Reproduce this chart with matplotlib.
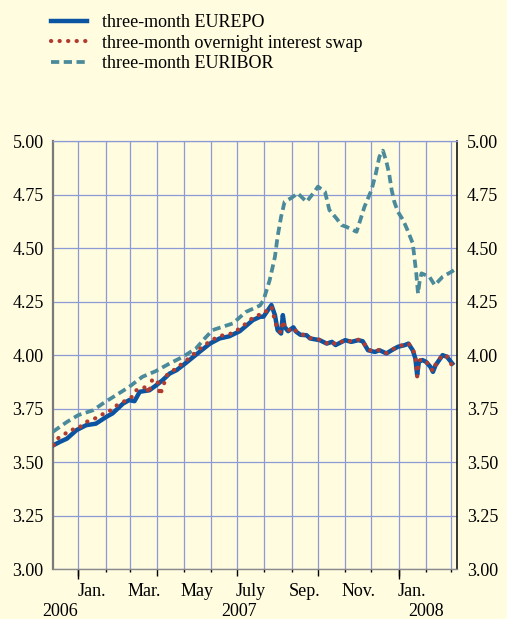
import matplotlib
matplotlib.use("Agg")
import matplotlib.pyplot as plt
import matplotlib.dates as mdates
from matplotlib.transforms import blended_transform_factory
import pandas as pd

# ---------------- data ----------------
repo_dates = ["2006-12-04", "2006-12-11", "2006-12-19", "2006-12-30", "2007-01-10", "2007-01-21",
              "2007-02-02", "2007-02-09", "2007-02-21", "2007-02-28", "2007-03-06", "2007-03-12",
              "2007-03-23", "2007-03-31", "2007-04-07", "2007-04-15", "2007-04-23", "2007-05-04",
              "2007-05-19", "2007-05-31", "2007-06-11", "2007-06-22", "2007-07-04", "2007-07-19",
              "2007-07-27", "2007-07-31", "2007-08-05", "2007-08-09", "2007-08-13", "2007-08-16",
              "2007-08-20", "2007-08-22", "2007-08-24", "2007-08-28", "2007-09-03", "2007-09-06",
              "2007-09-11", "2007-09-18", "2007-09-22", "2007-10-03", "2007-10-11", "2007-10-17",
              "2007-10-21", "2007-11-01", "2007-11-08", "2007-11-16", "2007-11-21", "2007-11-27",
              "2007-12-05", "2007-12-10", "2007-12-18", "2007-12-24", "2007-12-31", "2008-01-08",
              "2008-01-12", "2008-01-17", "2008-01-20", "2008-01-22", "2008-01-24", "2008-01-28",
              "2008-02-01", "2008-02-06", "2008-02-09", "2008-02-12", "2008-02-20", "2008-02-25",
              "2008-03-02"]
eurepo = [3.580, 3.595, 3.610, 3.650, 3.673, 3.680,
          3.712, 3.728, 3.774, 3.790, 3.785, 3.829,
          3.836, 3.860, 3.883, 3.914, 3.930, 3.965,
          4.015, 4.054, 4.078, 4.088, 4.112, 4.164,
          4.179, 4.180, 4.210, 4.234, 4.187, 4.117,
          4.101, 4.187, 4.132, 4.112, 4.130, 4.110,
          4.095, 4.093, 4.078, 4.070, 4.054, 4.062,
          4.047, 4.070, 4.062, 4.070, 4.065, 4.023,
          4.015, 4.023, 4.008, 4.023, 4.039, 4.047,
          4.054, 4.023, 3.984, 3.907, 3.969, 3.977,
          3.969, 3.946, 3.922, 3.953, 4.000, 3.992,
          3.961]

ois_dates = ["2006-12-04", "2006-12-08", "2006-12-15", "2006-12-22", "2007-01-01", "2007-01-07",
             "2007-01-14", "2007-01-25", "2007-02-01", "2007-02-08", "2007-02-14", "2007-02-25",
             "2007-03-03", "2007-03-08", "2007-03-16", "2007-03-20", "2007-03-22", "2007-03-26",
             "2007-04-01", "2007-04-04", "2007-04-06", "2007-04-12", "2007-04-23", "2007-05-04",
             "2007-05-19", "2007-05-31", "2007-06-11", "2007-06-22", "2007-07-04", "2007-07-19",
             "2007-07-27", "2007-07-31", "2007-08-05", "2007-08-09", "2007-08-13", "2007-08-16",
             "2007-08-20", "2007-08-22", "2007-08-24", "2007-08-28", "2007-09-03", "2007-09-06",
             "2007-09-11", "2007-09-18", "2007-09-22", "2007-10-03", "2007-10-11", "2007-10-17",
             "2007-10-21", "2007-11-01", "2007-11-08", "2007-11-16", "2007-11-21", "2007-11-27",
             "2007-12-05", "2007-12-10", "2007-12-18", "2007-12-24", "2007-12-31", "2008-01-08",
             "2008-01-12", "2008-01-17", "2008-01-20", "2008-01-22", "2008-01-24", "2008-01-28",
             "2008-02-01", "2008-02-06", "2008-02-09", "2008-02-12", "2008-02-20", "2008-02-25",
             "2008-03-02"]
ois = [3.580, 3.610, 3.626, 3.650, 3.657, 3.681,
       3.696, 3.712, 3.735, 3.743, 3.766, 3.790,
       3.805, 3.836, 3.844, 3.860, 3.820, 3.883,
       3.885, 3.813, 3.836, 3.907, 3.940, 3.975,
       4.028, 4.065, 4.090, 4.097, 4.124, 4.175,
       4.190, 4.192, 4.215, 4.226, 4.160, 4.120,
       4.105, 4.160, 4.135, 4.115, 4.128, 4.112,
       4.097, 4.093, 4.080, 4.072, 4.056, 4.064,
       4.050, 4.070, 4.064, 4.072, 4.065, 4.025,
       4.018, 4.025, 4.010, 4.025, 4.040, 4.050,
       4.055, 4.030, 3.990, 3.900, 3.975, 3.980,
       3.972, 3.945, 3.925, 3.955, 4.002, 3.994,
       3.950]

euribor_dates = ["2006-12-03", "2006-12-19", "2007-01-01", "2007-01-18", "2007-01-31", "2007-02-13",
                 "2007-02-28", "2007-03-15", "2007-03-30", "2007-04-15", "2007-04-30", "2007-05-15",
                 "2007-05-25", "2007-06-03", "2007-06-14", "2007-06-26", "2007-07-11", "2007-07-27",
                 "2007-07-31", "2007-08-07", "2007-08-13", "2007-08-16", "2007-08-20", "2007-08-24",
                 "2007-09-01", "2007-09-08", "2007-09-18", "2007-09-27", "2007-10-01", "2007-10-09",
                 "2007-10-14", "2007-10-22", "2007-10-28", "2007-11-02", "2007-11-14", "2007-11-17",
                 "2007-11-23", "2007-12-01", "2007-12-06", "2007-12-10", "2007-12-14", "2007-12-18",
                 "2007-12-21", "2007-12-24", "2007-12-27", "2007-12-31", "2008-01-06", "2008-01-11",
                 "2008-01-17", "2008-01-19", "2008-01-21", "2008-01-23", "2008-01-25", "2008-01-27",
                 "2008-02-05", "2008-02-11", "2008-02-20", "2008-03-01", "2008-03-05"]
euribor = [3.642, 3.688, 3.720, 3.743, 3.780, 3.813,
           3.852, 3.899, 3.925, 3.961, 3.992, 4.031,
           4.078, 4.117, 4.132, 4.148, 4.202, 4.232,
           4.257, 4.350, 4.459, 4.553, 4.646, 4.716,
           4.735, 4.756, 4.716, 4.763, 4.787, 4.763,
           4.678, 4.639, 4.607, 4.600, 4.576, 4.615,
           4.693, 4.771, 4.849, 4.927, 4.955, 4.903,
           4.849, 4.771, 4.716, 4.670, 4.631, 4.584,
           4.522, 4.452, 4.382, 4.288, 4.350, 4.382,
           4.366, 4.327, 4.366, 4.389, 4.400]

series_labels = ["three-month EUREPO", "three-month overnight interest swap", "three-month EURIBOR"]
yticks = [3.00, 3.25, 3.50, 3.75, 4.00, 4.25, 4.50, 4.75, 5.00]
month_labels = ["Jan.", "Mar.", "May", "July", "Sep.", "Nov.", "Jan."]
month_label_dates = ["2007-01-16", "2007-03-17", "2007-05-16", "2007-07-16",
                     "2007-09-16", "2007-11-16", "2008-01-16"]
year_labels = ["2006", "2007", "2008"]
year_label_dates = ["2006-12-11", "2007-07-03", "2008-02-01"]

# ---------------- style ----------------
BG = "#fffce0"
GRID = "#8c9bd6"
C_REPO = "#0b54a2"
C_OIS = "#b23b2f"
C_EURIBOR = "#4a8a9b"
FS = 13
plt.rcParams["font.family"] = ["Liberation Serif", "DejaVu Serif"]

fig = plt.figure(figsize=(5.07, 6.19), dpi=100, facecolor=BG)
ax = fig.add_axes([0.1051, 0.0803, 0.7963, 0.6919])
ax.set_facecolor(BG)

l_eur, = ax.plot(pd.to_datetime(euribor_dates), euribor, color=C_EURIBOR, lw=2.7,
                 dashes=(2.2, 1.2), dash_capstyle="butt", zorder=3, label=series_labels[2])
l_repo, = ax.plot(pd.to_datetime(repo_dates), eurepo, color=C_REPO, lw=3.2,
                  solid_joinstyle="round", zorder=4, label=series_labels[0])
l_ois, = ax.plot(pd.to_datetime(ois_dates), ois, color=C_OIS, lw=3.0,
                 dashes=(0.05, 2.0), dash_capstyle="round", zorder=5, label=series_labels[1])

ax.set_xlim(pd.Timestamp("2006-12-03 12:00"), pd.Timestamp("2008-03-07 10:00"))
ax.set_ylim(3.0, 5.0)

# y axis
ax.set_yticks(yticks)
ax.set_yticklabels([f"{v:.2f}" for v in yticks])
ax.tick_params(axis="y", which="both", left=True, right=True, labelleft=True, labelright=True,
               length=0, pad=7, labelsize=FS)

# x axis ticks: minor every month, major every quarter, extra long at January
ax.xaxis.set_major_locator(mdates.MonthLocator(bymonth=[1, 4, 7, 10]))
ax.xaxis.set_minor_locator(mdates.MonthLocator())
ax.xaxis.set_major_formatter(plt.NullFormatter())
ax.xaxis.set_minor_formatter(plt.NullFormatter())
ax.tick_params(axis="x", which="major", direction="out", length=5, width=1.0, color="black")
ax.tick_params(axis="x", which="minor", direction="out", length=2.5, width=1.0, color="black")
sec = ax.secondary_xaxis("bottom")
sec.xaxis.set_major_locator(mdates.MonthLocator(bymonth=[1]))
sec.xaxis.set_major_formatter(plt.NullFormatter())
sec.tick_params(axis="x", which="major", direction="out", length=7.5, width=1.0, color="black")
sec.xaxis.set_minor_locator(plt.NullLocator())
sec.spines["bottom"].set_visible(False)

# grid
ax.set_axisbelow(True)
ax.grid(True, which="minor", axis="x", color=GRID, lw=0.9)
ax.grid(True, which="major", axis="x", color=GRID, lw=0.9)
ax.grid(True, which="major", axis="y", color=GRID, lw=0.9)

# spines
ax.spines["top"].set_color(GRID)
ax.spines["top"].set_linewidth(0.9)
ax.spines["left"].set_color("#7a7a7a")
ax.spines["left"].set_linewidth(1.6)
ax.spines["right"].set_color("black")
ax.spines["right"].set_linewidth(1.1)
ax.spines["bottom"].set_color("#8a8a8a")
ax.spines["bottom"].set_linewidth(1.0)

# month and year labels
tr = blended_transform_factory(ax.transData, ax.transAxes)
for lab, d in zip(month_labels, month_label_dates):
    ax.text(pd.Timestamp(d), -0.051, lab, transform=tr, ha="center", va="center", fontsize=FS)
for lab, d in zip(year_labels, year_label_dates):
    ax.text(pd.Timestamp(d), -0.098, lab, transform=tr, ha="center", va="center", fontsize=FS)

# legend
fig.legend(handles=[l_repo, l_ois, l_eur], labels=series_labels, loc="upper left",
           bbox_to_anchor=(51 / 507, 1 - 14 / 619), frameon=False, fontsize=FS,
           handlelength=2.0, handletextpad=0.85, labelspacing=0.2, borderpad=0, borderaxespad=0)

fig.savefig("out.png", dpi=100, facecolor=BG)
